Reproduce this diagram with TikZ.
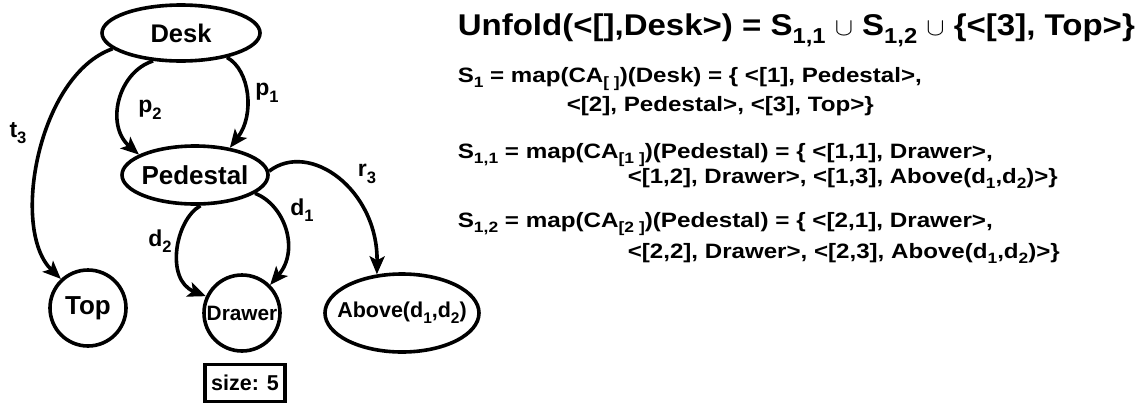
\documentclass[tikz,border=0pt]{standalone}
\usepackage{fontspec}
\setmainfont{Liberation Sans}
\usetikzlibrary{shapes.geometric,arrows.meta}

% lowered, smaller text for indices
\newcommand\low[1]{\raisebox{-0.28em}{\scalebox{0.72}{#1}}}
% set a line of text to a given width, keeping its height
\newcommand\fitw[2]{\resizebox{#1}{\height}{#2}}

\begin{document}
\begin{tikzpicture}[x=1pt,y=-1pt,
  line width=3.6pt,
  oval/.style={draw, ellipse, inner sep=0pt},
  ring/.style={draw, circle, inner sep=0pt, minimum size=76pt},
  link/.style={-{Stealth[length=18pt,width=15pt,inset=4pt]}},
  elabel/.style={inner sep=0pt, font=\bfseries\fontsize{23}{27}\selectfont},
  txt/.style={anchor=base west, inner sep=0pt, font=\bfseries\fontsize{20.8}{24}\selectfont}]
\useasboundingbox (0,0) rectangle (1148,405);

% tree of parts
\node[oval, minimum width=158pt, minimum height=56pt, font=\bfseries\fontsize{25.5}{30}\selectfont] (desk) at (181,33) {Desk};
\node[oval, minimum width=146pt, minimum height=58pt, font=\bfseries\fontsize{26}{30}\selectfont] (ped) at (195,175) {\makebox[90pt]{Pedestal}};
\node[ring, font=\bfseries\fontsize{26}{30}\selectfont] (top) at (88,308) {Top};
\node[ring, font=\bfseries\fontsize{20.8}{24}\selectfont] (drawer) at (242,313) {Drawer};
\node[oval, minimum width=154pt, minimum height=78pt, font=\bfseries\fontsize{21.5}{25}\selectfont] (above) at (402,313) {\makebox[100pt]{Above(d\low{1},d\low{2})}};
\node[draw, inner sep=0pt, minimum width=80pt, minimum height=37pt, font=\bfseries\fontsize{21.5}{25}\selectfont] (size) at (245,383) {size: 5};

% part links
\draw[link] (desk.193) .. controls (38,75) and (10,230) .. (top.133);
\draw[link] (desk.225) .. controls (118,72) and (105,125) .. (ped.160);
\draw[link] (desk.-28) .. controls (250,70) and (255,115) .. (ped.38);
\draw[link] (ped.3) .. controls (310,140) and (378,190) .. (above.123);
\draw[link] (ped.-17) .. controls (285,205) and (300,250) .. (drawer.45);
\draw[link] (ped.280) .. controls (175,220) and (165,280) .. (drawer.155);

% link labels
\node[elabel] (t3) at (18,133) {t\low{3}};
\node[elabel] (p2) at (150,110) {p\low{2}};
\node[elabel] (p1) at (267,93) {p\low{1}};
\node[elabel] (r3) at (367,174) {r\low{3}};
\node[elabel] (d1) at (302,210) {d\low{1}};
\node[elabel] (d2) at (160,241) {d\low{2}};

% unfolding equations
\node[txt, font=\bfseries\fontsize{30}{35}\selectfont] (title) at (456,35)
  {\fitw{677pt}{Unfold(<[],Desk>) = S\low{1,1} $\cup$ S\low{1,2} $\cup$ \{<[3], Top>\}}};
\node[txt] (s1a) at (456,82) {\fitw{464pt}{S\low{1} = map(CA\low{[\ ]})(Desk) = \{ <[1], Pedestal>,}};
\node[txt] (s1b) at (565,111) {\fitw{307pt}{<[2], Pedestal>, <[3], Top>\}}};
\node[txt] (s11a) at (456,158) {\fitw{535pt}{S\low{1,1} = map(CA\low{[1\ ]})(Pedestal) = \{ <[1,1], Drawer>,}};
\node[txt] (s11b) at (626,183) {\fitw{430pt}{<[1,2], Drawer>, <[1,3], Above(d\low{1},d\low{2})>\}}};
\node[txt] (s12a) at (456,227) {\fitw{535pt}{S\low{1,2} = map(CA\low{[2\ ]})(Pedestal) = \{ <[2,1], Drawer>,}};
\node[txt] (s12b) at (626,258) {\fitw{432pt}{<[2,2], Drawer>, <[2,3], Above(d\low{1},d\low{2})>\}}};
\end{tikzpicture}
\end{document}
